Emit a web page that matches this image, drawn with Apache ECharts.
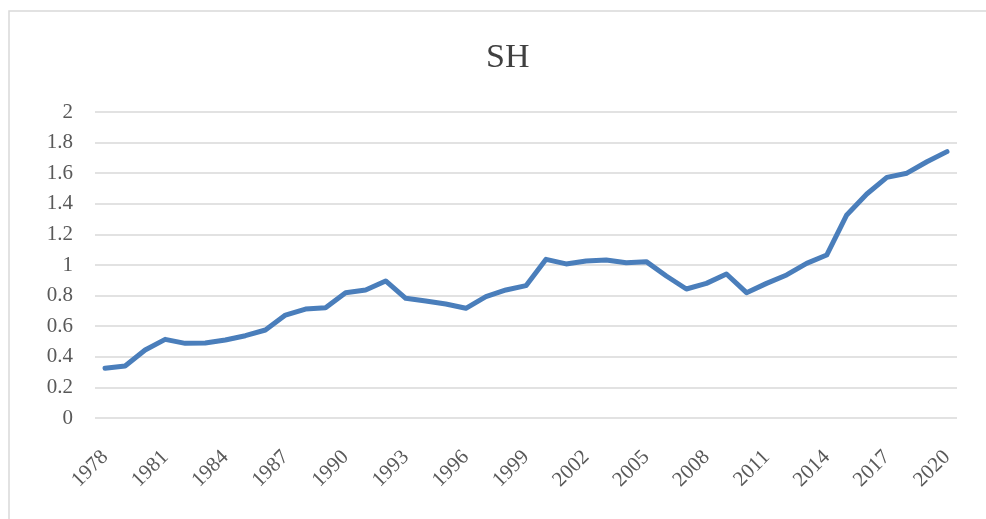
<!DOCTYPE html>
<html>
<head>
<meta charset="utf-8">
<script src="https://cdn.jsdelivr.net/npm/echarts@6/dist/echarts.min.js"></script>
<style>
html,body{margin:0;padding:0;background:#fff;}
#c{width:986px;height:519px;}
</style>
</head>
<body>
<div id="c"></div>
<script>
const years = [];
for (let y = 1978; y <= 2020; y++) years.push(String(y));
const shValues = [
  0.325, 0.34, 0.444, 0.514, 0.488, 0.49, 0.51, 0.538, 0.575, 0.673,
  0.712, 0.721, 0.819, 0.837, 0.896, 0.782, 0.765, 0.745, 0.717, 0.793,
  0.837, 0.865, 1.037, 1.007, 1.026, 1.033, 1.015, 1.022, 0.928, 0.843,
  0.88, 0.941, 0.819, 0.88, 0.935, 1.011, 1.065, 1.327, 1.464, 1.573,
  1.6, 1.675, 1.741
];
const yTicks = [0, 0.2, 0.4, 0.6, 0.8, 1, 1.2, 1.4, 1.6, 1.8, 2];
const titleText = 'SH';

const serif = '"Liberation Serif", "DejaVu Serif", serif';
const chart = echarts.init(document.getElementById('c'));
chart.setOption({
  animation: false,
  backgroundColor: '#fff',
  graphic: [{
    type: 'rect',
    shape: { x: 9, y: 11, width: 1000, height: 600 },
    style: { fill: 'none', stroke: '#d9d9d9', lineWidth: 1.5 },
    silent: true
  }],
  title: {
    text: titleText,
    left: 481,
    top: 36,
    textStyle: { fontFamily: serif, fontSize: 34, fontWeight: 'normal', color: '#404040' }
  },
  grid: { left: 95, right: 29, top: 112, bottom: 101, containLabel: false },
  xAxis: {
    type: 'category',
    data: years,
    boundaryGap: true,
    axisLine: { show: false },
    axisTick: { show: false },
    axisLabel: {
      interval: 2,
      rotate: 45,
      margin: 36,
      fontFamily: serif,
      fontSize: 21,
      color: '#595959'
    }
  },
  yAxis: {
    type: 'value',
    min: 0,
    max: 2,
    interval: 0.2,
    axisLine: { show: false },
    axisTick: { show: false },
    splitLine: { lineStyle: { color: '#d9d9d9', width: 1.5 } },
    axisLabel: {
      margin: 22,
      fontFamily: serif,
      fontSize: 21,
      color: '#595959',
      formatter: v => yTicks.includes(Math.round(v * 10) / 10) ? String(Math.round(v * 10) / 10) : ''
    }
  },
  series: [{
    type: 'line',
    data: shValues,
    symbol: 'none',
    lineStyle: { color: '#4a7ebb', width: 5, cap: 'round', join: 'round' },
    itemStyle: { color: '#4a7ebb' }
  }]
});
</script>
</body>
</html>
